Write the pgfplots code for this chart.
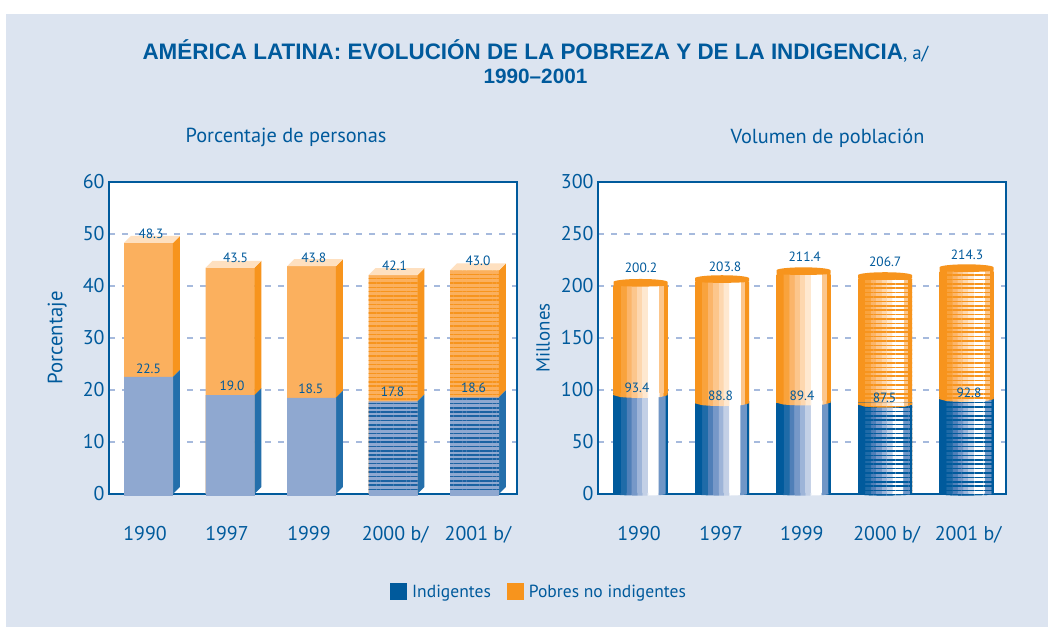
\documentclass[border=0pt]{standalone}
\usepackage{pgfplots}
\pgfplotsset{compat=1.18}
\usepackage{pgfplotstable}
\usepackage{fontspec}
\usetikzlibrary{patterns.meta}
\setmainfont{PT Sans}
\newfontfamily\titlefont{Liberation Sans}
\definecolor{panel}{HTML}{DCE4F0}
\definecolor{cepal}{HTML}{005A9C}
\definecolor{gridc}{HTML}{A6BADD}
\definecolor{oD}{HTML}{F7941D}
\definecolor{o1}{HTML}{F9A33D}
\definecolor{o2}{HTML}{FBB56A}
\definecolor{o3}{HTML}{FCC68C}
\definecolor{o4}{HTML}{FDD7AF}
\definecolor{o5}{HTML}{FEE8D0}
\definecolor{bD}{HTML}{005A9C}
\definecolor{b1}{HTML}{1F6BA8}
\definecolor{b2}{HTML}{4F7FB8}
\definecolor{b3}{HTML}{7698C8}
\definecolor{b4}{HTML}{9DB4D8}
\definecolor{b5}{HTML}{C3D0E6}
\definecolor{bR}{HTML}{7096C6}
\definecolor{oF}{HTML}{FBB05E}
\definecolor{oT}{HTML}{FEE0C0}
\definecolor{bF}{HTML}{8FA8D0}
\definecolor{bS}{HTML}{246FAB}
\definecolor{bL}{HTML}{1B62A2}
\pgfdeclarehorizontalshading{orangecyl}{100bp}{color(0bp)=(oD);color(31.1bp)=(oD);color(31.15bp)=(o1);color(36.6bp)=(o1);color(36.65bp)=(o2);color(41.2bp)=(o2);color(41.25bp)=(o3);color(46.45bp)=(o3);color(46.5bp)=(o4);color(50.95bp)=(o4);color(51bp)=(o5);color(56.45bp)=(o5);color(56.5bp)=(white);color(66.9bp)=(white);color(66.95bp)=(o3);color(71bp)=(o3);color(71.05bp)=(oD);color(100bp)=(oD)}
\pgfdeclarehorizontalshading{bluecyl}{100bp}{color(0bp)=(bD);color(31.1bp)=(bD);color(31.15bp)=(b1);color(36.6bp)=(b1);color(36.65bp)=(b2);color(41.2bp)=(b2);color(41.25bp)=(b3);color(46.45bp)=(b3);color(46.5bp)=(b4);color(50.95bp)=(b4);color(51bp)=(b5);color(56.45bp)=(b5);color(56.5bp)=(white);color(66.4bp)=(white);color(66.45bp)=(bR);color(72.5bp)=(bR);color(72.55bp)=(bD);color(100bp)=(bD)}
% plot marks: the cylinder's lid and the flat bar's base
\pgfdeclareplotmark{cyllid}{\path[fill=oD,draw=none] (-27bp,0.6bp) -- (-27bp,3.8bp) arc[start angle=180,end angle=0,x radius=27bp,y radius=3bp] -- (27bp,0.6bp) arc[start angle=0,end angle=-180,x radius=27bp,y radius=1.4bp] -- cycle;}
\pgfdeclareplotmark{barbase}{\path[fill=bF,draw=none] (-24.5bp,1bp) rectangle (24.5bp,-1.6bp);}
\pgfplotsset{
  layers/cepal/.define layer set={axis background,axis grid,axis ticks,axis lines,axis tick labels,pre main,main,axis descriptions,axis foreground}{},
  common/.style={
    set layers=cepal,clip=false,
    scale only axis,width=408bp,height=312bp,
    ymin=0,
    axis line style={line width=2.5bp,cepal},
    axis background/.style={fill=white},
    ymajorgrids,
    grid style={line width=1.1bp,gridc,dash pattern=on 6bp off 7bp},
    major tick length=0pt,
    /pgf/number format/assume math mode=true,
    tick label style={font=\fontsize{20}{20}\selectfont,text=cepal},
    yticklabel style={xshift=-1bp},
    xticklabel style={yshift=-29bp},
    xticklabels={1990,1997,1999,2000 b/,2001 b/},
    ylabel style={text=cepal,anchor=center},
    title style={font=\fontsize{20.4}{20.4}\selectfont,text=cepal,anchor=center},
    nodes near coords style={font=\fontsize{13.5}{13.5}\selectfont,text=cepal,anchor=center,
       xshift=\dx bp,yshift=\dy bp},
  },
  lbl/.style={draw=none,mark=none,forget plot,
    visualization depends on={\thisrow{dx}\as\dx},
    visualization depends on={\thisrow{dy}\as\dy},
    nodes near coords={\pgfmathprintnumber[fixed,fixed zerofill,precision=1]{\pgfplotspointmeta}},
  },
  lgd/.style={legend image code/.code={\path[draw=none,##1] (0bp,-8.5bp) rectangle (17bp,8.5bp);\path[draw=none,fill=none] (0bp,0bp) -- (20bp,0bp);}},
  cyl/.style={forget plot,ybar,bar width=54bp,bar shift=0pt,draw=none},
  stripeO/.style={pattern={Lines[angle=0,distance=4.4bp,line width=1.5bp]},pattern color=oD},
  stripeB/.style={pattern={Lines[angle=0,distance=4.4bp,line width=1.5bp]},pattern color=bD},
  stripeLO/.style={postaction={pattern={Lines[angle=0,distance=4.3bp,line width=1.4bp]},pattern color=oD}},
  stripeLB/.style={postaction={pattern={Lines[angle=0,distance=4.3bp,line width=1.7bp]},pattern color=bL}},
}
% left panel: percentages
\pgfplotstableread{
x total dx dy
0 48.3 2.5 9.5
1 43.5 5.5 9.5
2 43.8 2.3 8.9
3 42.1 1.5 9.7
4 43.0 3.5 9.4
}\pcttotal
\pgfplotstableread{
x lower dx dy
0 22.5 0 8
1 19.0 2 9.2
2 18.5 -0.7 8.8
3 17.8 -0.5 9.4
4 18.6 -1 9.3
}\pctlower
% right panel: millions
\pgfplotstableread{
x total dx dy
0 200.2 0.5 17.8
1 203.8 3 15.7
2 211.4 1.2 17.1
3 206.7 0.2 17.3
4 214.3 0.5 16.8
}\miltotal
\pgfplotstableread{
x lower h dx dy
0 93.4 96.6 -3.5 5.6
1 88.8 88.8 -1.5 5.6
2 89.4 89.4 -1.5 5
3 87.5 87.5 -0.5 5
4 92.8 92.8 2.5 4.5
}\millower
% outline of the curved seam between the two parts of a cylinder, and of its base
\pgfplotstableread{
t s
-0.3313 0.4
0.3313 0.4
0.3313 -1.63
0.2485 -3.35
0.1657 -3.88
0.0828 -4.14
0 -4.23
-0.0828 -4.14
-0.1657 -3.88
-0.2485 -3.35
-0.3313 -1.63
}\seamshape
\pgfplotstableread{
t s
-0.3313 1
0.3313 1
0.3313 0
0.2485 -1.02
0.1657 -1.33
0.0828 -1.49
0 -1.54
-0.0828 -1.49
-0.1657 -1.33
-0.2485 -1.02
-0.3313 0
}\baseshape
\newcommand\seam[3]{\addplot[forget plot,draw=none,#3] table[x expr=#1+\thisrow{t},y expr=#2+\thisrow{s}] {\seamshape} --cycle;}
\newcommand\base[2]{\addplot[forget plot,draw=none,#2] table[x expr=#1+\thisrow{t},y expr=\thisrow{s}] {\baseshape} --cycle;}
\begin{document}
\begin{tikzpicture}[x=1bp,y=1bp]
\fill[white] (0,0) rectangle (1048,627);
\fill[panel] (6,0) rectangle (1048,613);
\node[anchor=center,text=cepal,align=center,inner sep=0pt] at (535.5,565.5)
 {\titlefont\fontsize{22.5}{24}\selectfont\bfseries AMÉRICA LATINA: EVOLUCIÓN DE LA POBREZA Y DE LA INDIGENCIA{\mdseries\rmfamily\fontsize{19}{24}\selectfont, a/}\\[6bp]
  \titlefont\fontsize{20.8}{24}\selectfont\bfseries 1990–2001};

\begin{axis}[common,at={(109bp,133bp)},anchor=south west,
  ymax=60,ytick={0,10,...,60},
  xmin=-0.4847,xmax=4.5215,
  xtick={-0.043,0.963,1.969,3.025,4.043},
  ylabel={Porcentaje},ylabel style={at={(-0.127,0.5)},font=\fontsize{20.8}{20.8}\selectfont},
  title={Porcentaje de personas},title style={at={(0.434,1.122)}},
  legend style={at={(1.054,-0.314)},anchor=center,draw=none,fill=none,legend columns=2,
    font=\fontsize{17.6}{17.6}\selectfont,text=cepal,
    /tikz/every even column/.style={column sep=14bp}},
  legend cell align=left,
]
\addlegendimage{lgd,fill=bD}\addlegendentry{Indigentes}
\addlegendimage{lgd,fill=oD}\addlegendentry{Pobres no indigentes}
% front faces, whole bar to the total
\addplot[forget plot,ybar,bar width=49bp,bar shift=0pt,draw=none,fill=oF] coordinates {(0,48.3)(1,43.5)(2,43.8)};
\addplot[forget plot,ybar,bar width=49bp,bar shift=0pt,draw=none,fill=oF,stripeLO] coordinates {(3,42.1)(4,43.0)};
% side faces, orange
\addplot[forget plot,draw=none,fill=oD] coordinates {(0.3,22.5)(0.386,23.85)(0.386,49.65)(0.3,48.3)} --cycle;
\addplot[forget plot,draw=none,fill=oD] coordinates {(1.3,19.0)(1.386,20.35)(1.386,44.85)(1.3,43.5)} --cycle;
\addplot[forget plot,draw=none,fill=oD] coordinates {(2.3,18.5)(2.386,19.85)(2.386,45.15)(2.3,43.8)} --cycle;
\addplot[forget plot,draw=none,fill=oD] coordinates {(3.3,17.8)(3.386,19.15)(3.386,43.45)(3.3,42.1)} --cycle;
\addplot[forget plot,draw=none,fill=oD] coordinates {(4.3,18.6)(4.386,19.95)(4.386,44.35)(4.3,43.0)} --cycle;
% side faces, blue
\addplot[forget plot,draw=none,fill=bS] coordinates {(0.3,0)(0.386,1.35)(0.386,23.85)(0.3,22.5)} --cycle;
\addplot[forget plot,draw=none,fill=bS] coordinates {(1.3,0)(1.386,1.35)(1.386,20.35)(1.3,19.0)} --cycle;
\addplot[forget plot,draw=none,fill=bS] coordinates {(2.3,0)(2.386,1.35)(2.386,19.85)(2.3,18.5)} --cycle;
\addplot[forget plot,draw=none,fill=bS] coordinates {(3.3,0)(3.386,1.35)(3.386,19.15)(3.3,17.8)} --cycle;
\addplot[forget plot,draw=none,fill=bS] coordinates {(4.3,0)(4.386,1.35)(4.386,19.95)(4.3,18.6)} --cycle;
% top faces
\addplot[forget plot,draw=none,fill=oT] coordinates {(-0.3,48.3)(0.3,48.3)(0.386,49.65)(-0.214,49.65)} --cycle;
\addplot[forget plot,draw=none,fill=oT] coordinates {(0.7,43.5)(1.3,43.5)(1.386,44.85)(0.786,44.85)} --cycle;
\addplot[forget plot,draw=none,fill=oT] coordinates {(1.7,43.8)(2.3,43.8)(2.386,45.15)(1.786,45.15)} --cycle;
\addplot[forget plot,draw=none,fill=oT] coordinates {(2.7,42.1)(3.3,42.1)(3.386,43.45)(2.786,43.45)} --cycle;
\addplot[forget plot,draw=none,fill=oT] coordinates {(3.7,43.0)(4.3,43.0)(4.386,44.35)(3.786,44.35)} --cycle;
% front faces, blue
\addplot[forget plot,ybar,bar width=49bp,bar shift=0pt,draw=none,fill=bF] coordinates {(0,22.5)(1,19.0)(2,18.5)};
\addplot[forget plot,ybar,bar width=49bp,bar shift=0pt,draw=none,fill=bF,stripeLB] coordinates {(3,17.8)(4,18.6)};
\addplot[forget plot,only marks,mark=barbase] coordinates {(0,0)(1,0)(2,0)(3,0)(4,0)};
% value labels
\addplot[lbl] table[x=x,y=total] {\pcttotal};
\addplot[lbl] table[x=x,y=lower] {\pctlower};
\end{axis}

\begin{axis}[common,at={(598bp,133bp)},anchor=south west,
  ymax=300,ytick={0,50,...,300},
  xmin=-0.5215,xmax=4.4847,
  xtick={-0.018,0.99,1.98,3.02,4.02},
  ylabel={Millones},ylabel style={at={(-0.135,0.5)},font=\fontsize{19}{19}\selectfont},
  title={Volumen de población},title style={at={(0.5625,1.122)}},
]
% bodies to the total
\addplot[cyl,shading=orangecyl] coordinates {(0,200.2)};
\addplot[cyl,shading=orangecyl] coordinates {(1,203.8)};
\addplot[cyl,shading=orangecyl] coordinates {(2,211.4)};
\addplot[cyl,shading=orangecyl] coordinates {(3,206.7)};
\addplot[cyl,shading=orangecyl] coordinates {(4,214.3)};
\addplot[cyl,stripeO] coordinates {(3,206.7)(4,214.3)};
\addplot[forget plot,only marks,mark=cyllid] coordinates {(0,200.2)(1,203.8)(2,211.4)(3,206.7)(4,214.3)};
% lower parts
\addplot[cyl,shading=bluecyl] coordinates {(0,96.6)};
\addplot[cyl,shading=bluecyl] coordinates {(1,88.8)};
\addplot[cyl,shading=bluecyl] coordinates {(2,89.4)};
\addplot[cyl,shading=bluecyl] coordinates {(3,87.5)};
\addplot[cyl,shading=bluecyl] coordinates {(4,92.8)};
\addplot[cyl,stripeB] coordinates {(3,87.5)(4,92.8)};
\seam{0}{96.6}{shading=orangecyl}
\seam{1}{88.8}{shading=orangecyl}
\seam{2}{89.4}{shading=orangecyl}
\seam{3}{87.5}{shading=orangecyl}
\seam{4}{92.8}{shading=orangecyl}
\seam{3}{87.5}{stripeO}
\seam{4}{92.8}{stripeO}
\base{0}{shading=bluecyl}
\base{1}{shading=bluecyl}
\base{2}{shading=bluecyl}
\base{3}{shading=bluecyl}
\base{4}{shading=bluecyl}
\base{3}{stripeB}
\base{4}{stripeB}
% value labels
\addplot[lbl] table[x=x,y=total] {\miltotal};
\addplot[lbl,point meta=\thisrow{lower}] table[x=x,y=h] {\millower};
\end{axis}
\end{tikzpicture}
\end{document}
